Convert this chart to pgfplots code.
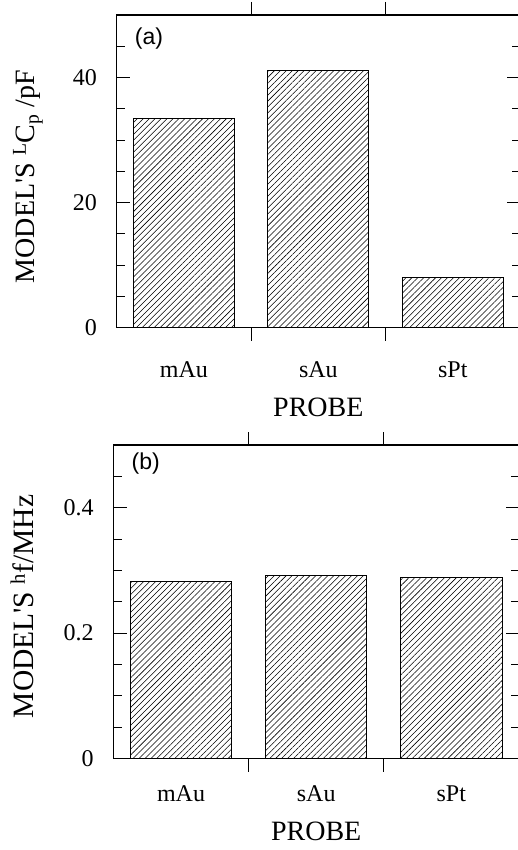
\documentclass[border=0pt]{standalone}
\usepackage{pgfplots}
\pgfplotsset{compat=1.18}
\usepackage{fontspec}
\setmainfont{Liberation Serif}
\newfontfamily\sansf{Liberation Sans}
\usetikzlibrary{patterns.meta}

\pgfplotsset{
  panel/.style={
    scale only axis,
    ybar, bar width=0.75,
    xmin=-0.5, xmax=2.5,
    xtick={0.5,1.5}, xticklabels={},
    extra x ticks={0,1,2},
    extra x tick labels={mAu,sAu,sPt},
    extra x tick style={major tick length=0pt},
    major tick length=13pt, minor tick length=8pt,
    axis line style={line width=1.1pt},
    every tick/.style={black, line width=1pt},
    /pgf/number format/assume math mode=true,
    yticklabel style={font=\fontsize{24}{24}\selectfont, anchor=east, inner sep=0pt, xshift=-19.7pt},
    xticklabel style={font=\fontsize{24}{24}\selectfont, anchor=base, inner sep=0pt},
    xlabel={PROBE},
    xlabel style={at={(axis description cs:0.5,0)}, anchor=base, inner sep=0pt, font=\fontsize{28}{28}\selectfont},
  },
  hatchbar/.style={draw=black, line width=1pt,
    pattern={Lines[angle=45,distance=4.2pt,line width=0.55pt]}},
}

\begin{document}
\begin{tikzpicture}
\useasboundingbox (0pt,0pt) rectangle (518pt,-850pt);

% ---- panel (a)
\begin{axis}[panel,
  at={(116.7pt,-327.7pt)}, anchor=south west,
  width=403.3pt, height=312.7pt,
  ymin=0, ymax=50,
  ytick={0,20,40}, minor ytick={5,10,15,25,30,35,45},
  xticklabel style={yshift=-50pt},
  xlabel style={yshift=-89pt},
  ylabel={MODEL\textquotesingle S \textsuperscript{L}C\textsubscript{p} /pF},
  ylabel style={at={([xshift=-81.7pt]axis description cs:0,0.483)}, anchor=base, inner sep=0pt, font=\fontsize{28}{28}\selectfont},
]
\addplot[hatchbar] coordinates {(0,33.5) (1,41.2) (2,8.1)};
\node[anchor=north west, inner sep=0pt, font=\sansf\fontsize{23}{23}\selectfont]
  at ([xshift=18pt,yshift=-13pt]rel axis cs:0,1) {(a)};
\end{axis}

% ---- panel (b)
\begin{axis}[panel,
  at={(113.5pt,-758.5pt)}, anchor=south west,
  width=405.4pt, height=313.5pt,
  ymin=0, ymax=0.5,
  ytick={0,0.2,0.4}, minor ytick={0.05,0.1,0.15,0.25,0.3,0.35,0.45},
  yticklabel style={/pgf/number format/fixed},
  xticklabel style={yshift=-43pt},
  xlabel style={yshift=-82pt},
  ylabel={MODEL\textquotesingle S \textsuperscript{h}f/MHz},
  ylabel style={at={([xshift=-79.5pt]axis description cs:0,0.485)}, anchor=base, inner sep=0pt, font=\fontsize{29.5}{29.5}\selectfont},
]
\addplot[hatchbar] coordinates {(0,0.283) (1,0.2925) (2,0.289)};
\node[anchor=north west, inner sep=0pt, font=\sansf\fontsize{23}{23}\selectfont]
  at ([xshift=18pt,yshift=-8pt]rel axis cs:0,1) {(b)};
\end{axis}
\end{tikzpicture}
\end{document}
